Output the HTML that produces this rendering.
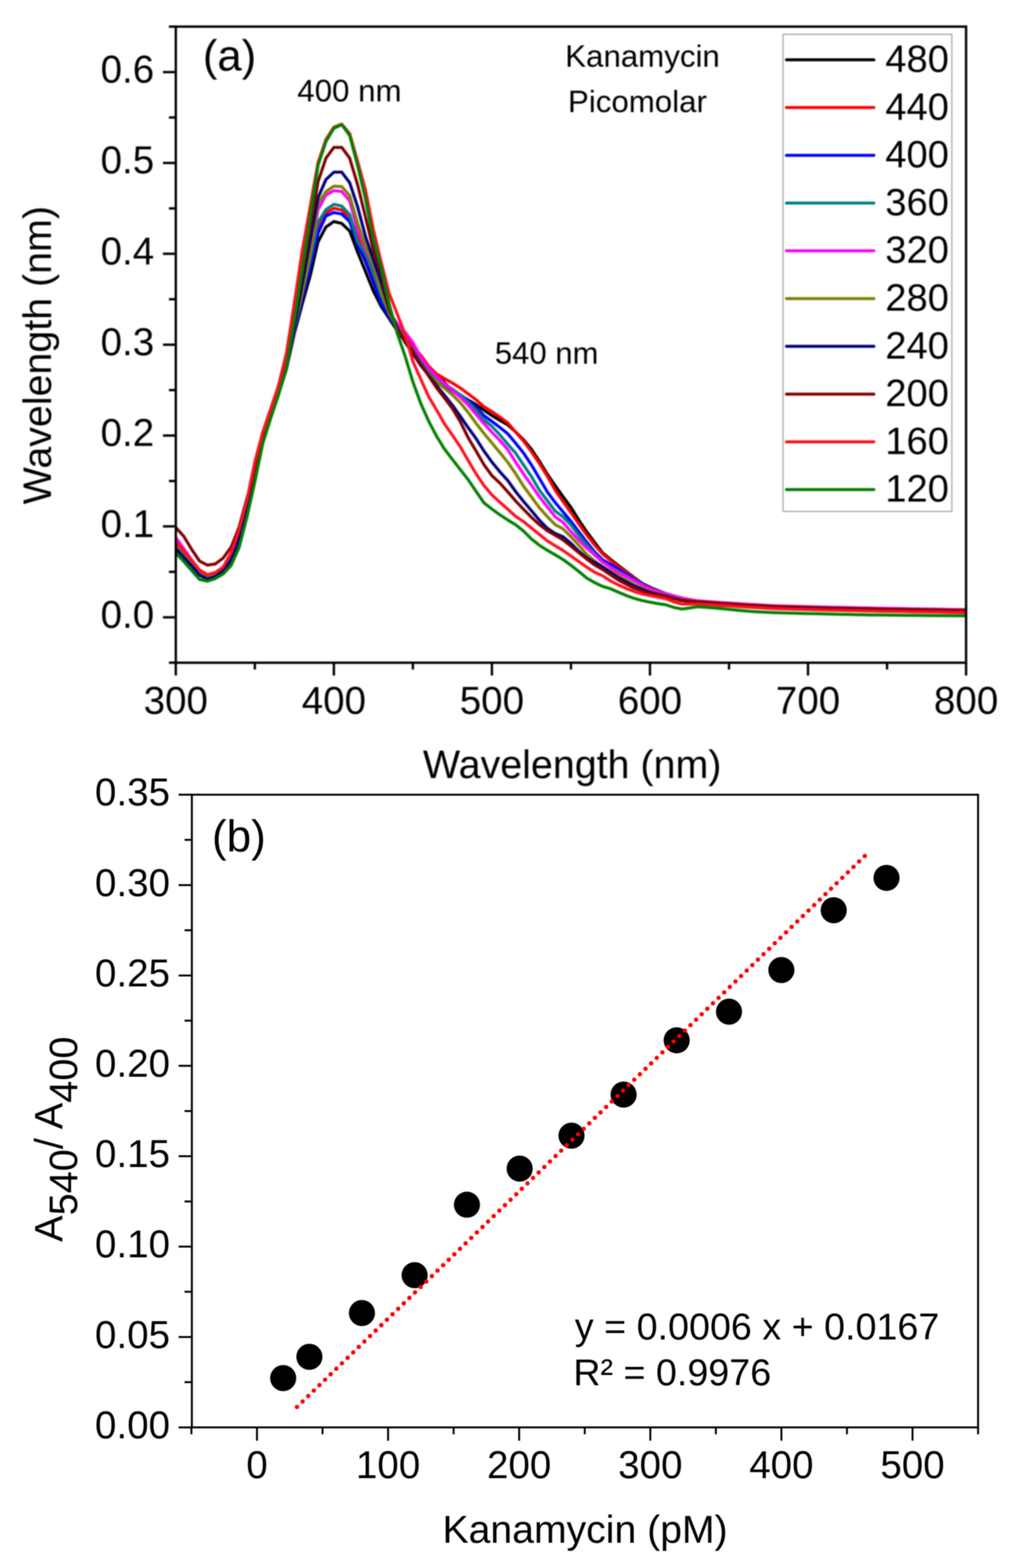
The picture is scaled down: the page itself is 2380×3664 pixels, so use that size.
<!DOCTYPE html>
<html><head><meta charset="utf-8"><title>Kanamycin figure</title>
<style>html,body{margin:0;padding:0;background:#fff;} svg{display:block;}</style>
</head><body>
<svg width="2380" height="3664" viewBox="0 0 2380 3664">
<defs><filter id="bA" x="-2%" y="-2%" width="104%" height="104%" color-interpolation-filters="sRGB"><feGaussianBlur stdDeviation="1.6"/></filter><filter id="bB" x="-2%" y="-2%" width="104%" height="104%" color-interpolation-filters="sRGB"><feGaussianBlur stdDeviation="1.0"/></filter></defs>
<rect width="2380" height="3664" fill="#fff"/>
<g filter="url(#bA)">
<clipPath id="ca"><rect x="410.6" y="62.2" width="1845.8000000000002" height="1486.3999999999999"/></clipPath>
<g clip-path="url(#ca)" fill="none" stroke-width="7" stroke-linejoin="round" stroke-linecap="round">
<polyline stroke="#000000" points="410.6,1270.0 429.1,1291.0 447.5,1312.0 466.0,1336.0 484.4,1346.0 502.9,1340.0 521.3,1327.0 539.8,1308.4 558.3,1259.7 576.7,1188.7 595.2,1102.4 613.6,1027.3 632.1,973.6 650.6,920.7 669.0,862.5 687.5,779.1 705.9,710.0 724.4,644.7 742.8,565.0 761.3,530.4 779.8,517.6 798.2,522.2 816.7,539.7 835.1,588.7 853.6,634.1 872.1,680.2 890.5,716.4 909.0,744.3 927.4,772.7 945.9,797.5 964.3,821.2 982.8,840.3 1001.3,859.1 1019.7,874.9 1038.2,894.0 1056.6,913.5 1075.1,924.1 1093.5,934.7 1112.0,945.5 1130.5,958.9 1148.9,970.8 1167.4,982.2 1185.8,992.6 1204.3,1009.3 1222.8,1027.7 1241.2,1049.7 1259.7,1077.7 1278.1,1107.6 1296.6,1134.7 1315.0,1160.5 1333.5,1185.6 1352.0,1215.4 1370.4,1242.7 1388.9,1267.7 1407.3,1291.6 1425.8,1306.9 1444.2,1321.2 1462.7,1335.5 1481.2,1349.6 1499.6,1363.2 1518.1,1372.2 1536.5,1379.8 1555.0,1386.9 1573.5,1392.6 1591.9,1398.4 1610.4,1403.1 1628.8,1407.7 1647.3,1409.3 1665.7,1410.6 1684.2,1412.0 1702.7,1413.1 1721.1,1414.2 1739.6,1415.4 1758.0,1416.5 1776.5,1417.6 1795.0,1418.7 1813.4,1419.4 1831.9,1420.0 1850.3,1420.5 1868.8,1421.1 1887.2,1421.6 1905.7,1422.1 1924.2,1422.5 1942.6,1422.9 1961.1,1423.3 1979.5,1423.7 1998.0,1424.1 2016.4,1424.5 2034.9,1424.8 2053.4,1425.2 2071.8,1425.5 2090.3,1425.8 2108.7,1426.1 2127.2,1426.4 2145.7,1426.7 2164.1,1427.0 2182.6,1427.3 2201.0,1427.6 2219.5,1427.9 2237.9,1428.2 2256.4,1428.5"/>
<polyline stroke="#ff0000" points="410.6,1266.0 429.1,1287.0 447.5,1309.0 466.0,1332.0 484.4,1343.0 502.9,1338.0 521.3,1325.0 539.8,1296.8 558.3,1245.2 576.7,1174.7 595.2,1089.8 613.6,1021.9 632.1,970.6 650.6,919.4 669.0,861.5 687.5,772.3 705.9,692.5 724.4,615.1 742.8,530.0 761.3,497.8 779.8,486.7 798.2,490.8 816.7,507.0 835.1,554.6 853.6,601.2 872.1,649.7 890.5,702.7 909.0,730.0 927.4,756.1 945.9,783.8 964.3,810.1 982.8,829.9 1001.3,855.7 1019.7,873.7 1038.2,884.7 1056.6,895.0 1075.1,906.6 1093.5,920.2 1112.0,934.1 1130.5,950.6 1148.9,961.7 1167.4,974.3 1185.8,987.8 1204.3,1009.5 1222.8,1030.7 1241.2,1055.5 1259.7,1082.8 1278.1,1112.3 1296.6,1145.3 1315.0,1172.0 1333.5,1197.7 1352.0,1224.5 1370.4,1250.1 1388.9,1273.7 1407.3,1294.2 1425.8,1309.7 1444.2,1323.6 1462.7,1337.4 1481.2,1351.3 1499.6,1365.1 1518.1,1373.8 1536.5,1380.8 1555.0,1387.3 1573.5,1392.9 1591.9,1398.4 1610.4,1403.5 1628.8,1408.7 1647.3,1410.3 1665.7,1411.6 1684.2,1413.0 1702.7,1414.1 1721.1,1415.2 1739.6,1416.4 1758.0,1417.5 1776.5,1418.6 1795.0,1419.7 1813.4,1420.4 1831.9,1421.0 1850.3,1421.5 1868.8,1422.1 1887.2,1422.6 1905.7,1423.1 1924.2,1423.5 1942.6,1423.9 1961.1,1424.3 1979.5,1424.7 1998.0,1425.1 2016.4,1425.5 2034.9,1425.8 2053.4,1426.2 2071.8,1426.5 2090.3,1426.8 2108.7,1427.1 2127.2,1427.4 2145.7,1427.7 2164.1,1428.0 2182.6,1428.3 2201.0,1428.6 2219.5,1428.9 2237.9,1429.2 2256.4,1429.5"/>
<polyline stroke="#0000ff" points="410.6,1274.0 429.1,1296.0 447.5,1318.0 466.0,1341.0 484.4,1351.0 502.9,1345.0 521.3,1332.0 539.8,1308.5 558.3,1259.7 576.7,1188.7 595.2,1102.4 613.6,1027.3 632.1,973.6 650.6,920.7 669.0,861.7 687.5,773.1 705.9,698.5 724.4,626.0 742.8,545.0 761.3,504.8 779.8,496.6 798.2,500.1 816.7,517.6 835.1,571.2 853.6,611.5 872.1,660.0 890.5,709.0 909.0,739.9 927.4,769.9 945.9,797.5 964.3,821.2 982.8,841.3 1001.3,861.3 1019.7,880.6 1038.2,899.9 1056.6,913.9 1075.1,922.7 1093.5,935.7 1112.0,952.0 1130.5,971.3 1148.9,984.7 1167.4,998.7 1185.8,1013.5 1204.3,1035.5 1222.8,1058.6 1241.2,1086.2 1259.7,1117.8 1278.1,1149.1 1296.6,1174.1 1315.0,1196.0 1333.5,1218.2 1352.0,1242.9 1370.4,1266.8 1388.9,1289.6 1407.3,1308.0 1425.8,1318.7 1444.2,1329.6 1462.7,1341.6 1481.2,1354.0 1499.6,1364.5 1518.1,1374.6 1536.5,1381.0 1555.0,1387.3 1573.5,1392.4 1591.9,1397.4 1610.4,1402.1 1628.8,1406.7 1647.3,1408.3 1665.7,1409.6 1684.2,1411.0 1702.7,1412.1 1721.1,1413.2 1739.6,1414.4 1758.0,1415.5 1776.5,1416.6 1795.0,1417.7 1813.4,1418.4 1831.9,1419.0 1850.3,1419.5 1868.8,1420.1 1887.2,1420.6 1905.7,1421.1 1924.2,1421.5 1942.6,1421.9 1961.1,1422.3 1979.5,1422.7 1998.0,1423.1 2016.4,1423.5 2034.9,1423.8 2053.4,1424.2 2071.8,1424.5 2090.3,1424.8 2108.7,1425.1 2127.2,1425.4 2145.7,1425.7 2164.1,1426.0 2182.6,1426.3 2201.0,1426.6 2219.5,1426.9 2237.9,1427.2 2256.4,1427.5"/>
<polyline stroke="#008080" points="410.6,1278.0 429.1,1299.0 447.5,1320.0 466.0,1342.0 484.4,1352.0 502.9,1346.0 521.3,1333.0 539.8,1308.6 558.3,1259.7 576.7,1188.7 595.2,1102.4 613.6,1027.3 632.1,973.6 650.6,920.7 669.0,860.9 687.5,767.0 705.9,684.5 724.4,605.9 742.8,520.0 761.3,489.6 779.8,477.4 798.2,481.5 816.7,501.3 835.1,564.3 853.6,592.8 872.1,635.9 890.5,691.4 909.0,731.0 927.4,763.6 945.9,791.3 964.3,819.0 982.8,842.8 1001.3,866.5 1019.7,882.9 1038.2,898.0 1056.6,909.0 1075.1,922.9 1093.5,940.0 1112.0,958.5 1130.5,980.8 1148.9,996.3 1167.4,1015.9 1185.8,1037.7 1204.3,1058.7 1222.8,1086.5 1241.2,1113.6 1259.7,1145.1 1278.1,1169.6 1296.6,1194.1 1315.0,1207.8 1333.5,1226.9 1352.0,1251.4 1370.4,1273.3 1388.9,1294.1 1407.3,1312.9 1425.8,1324.6 1444.2,1335.1 1462.7,1345.6 1481.2,1355.9 1499.6,1365.9 1518.1,1375.5 1536.5,1381.4 1555.0,1387.3 1573.5,1392.4 1591.9,1397.4 1610.4,1401.2 1628.8,1404.8 1647.3,1406.3 1665.7,1407.6 1684.2,1409.0 1702.7,1410.1 1721.1,1411.2 1739.6,1412.4 1758.0,1413.5 1776.5,1414.6 1795.0,1415.7 1813.4,1416.4 1831.9,1417.0 1850.3,1417.5 1868.8,1418.1 1887.2,1418.6 1905.7,1419.1 1924.2,1419.5 1942.6,1419.9 1961.1,1420.3 1979.5,1420.7 1998.0,1421.1 2016.4,1421.5 2034.9,1421.8 2053.4,1422.2 2071.8,1422.5 2090.3,1422.8 2108.7,1423.1 2127.2,1423.4 2145.7,1423.7 2164.1,1424.0 2182.6,1424.3 2201.0,1424.6 2219.5,1424.9 2237.9,1425.2 2256.4,1425.5"/>
<polyline stroke="#ff00ff" points="410.6,1256.0 429.1,1282.0 447.5,1308.0 466.0,1334.0 484.4,1349.0 502.9,1343.0 521.3,1330.0 539.8,1308.5 558.3,1259.7 576.7,1188.7 595.2,1102.4 613.6,1027.3 632.1,973.6 650.6,920.7 669.0,860.9 687.5,766.8 705.9,682.8 724.4,596.7 742.8,490.0 761.3,455.9 779.8,445.4 798.2,447.7 816.7,469.0 835.1,538.1 853.6,582.1 872.1,618.5 890.5,681.0 909.0,727.5 927.4,757.5 945.9,776.2 964.3,800.5 982.8,834.5 1001.3,860.6 1019.7,880.2 1038.2,896.0 1056.6,912.5 1075.1,928.3 1093.5,946.5 1112.0,968.2 1130.5,990.2 1148.9,1010.1 1167.4,1029.1 1185.8,1050.4 1204.3,1079.7 1222.8,1107.5 1241.2,1133.8 1259.7,1160.6 1278.1,1184.1 1296.6,1207.5 1315.0,1220.7 1333.5,1242.3 1352.0,1262.3 1370.4,1280.7 1388.9,1297.2 1407.3,1313.3 1425.8,1325.9 1444.2,1337.2 1462.7,1347.1 1481.2,1356.9 1499.6,1366.7 1518.1,1376.2 1536.5,1381.8 1555.0,1387.3 1573.5,1392.2 1591.9,1397.1 1610.4,1400.6 1628.8,1403.8 1647.3,1405.3 1665.7,1406.6 1684.2,1408.0 1702.7,1409.1 1721.1,1410.2 1739.6,1411.4 1758.0,1412.5 1776.5,1413.6 1795.0,1414.7 1813.4,1415.4 1831.9,1416.0 1850.3,1416.5 1868.8,1417.1 1887.2,1417.6 1905.7,1418.1 1924.2,1418.5 1942.6,1418.9 1961.1,1419.3 1979.5,1419.7 1998.0,1420.1 2016.4,1420.5 2034.9,1420.8 2053.4,1421.2 2071.8,1421.5 2090.3,1421.8 2108.7,1422.1 2127.2,1422.4 2145.7,1422.7 2164.1,1423.0 2182.6,1423.3 2201.0,1423.6 2219.5,1423.9 2237.9,1424.2 2256.4,1424.5"/>
<polyline stroke="#808000" points="410.6,1276.0 429.1,1297.0 447.5,1318.0 466.0,1340.0 484.4,1350.0 502.9,1344.0 521.3,1331.0 539.8,1308.5 558.3,1259.7 576.7,1188.7 595.2,1102.4 613.6,1027.3 632.1,973.6 650.6,920.7 669.0,860.9 687.5,767.0 705.9,684.5 724.4,595.5 742.8,476.0 761.3,447.7 779.8,434.9 798.2,436.1 816.7,457.0 835.1,521.3 853.6,575.0 872.1,616.7 890.5,681.0 909.0,732.0 927.4,766.1 945.9,793.8 964.3,825.8 982.8,854.0 1001.3,874.7 1019.7,892.3 1038.2,907.1 1056.6,922.5 1075.1,941.0 1093.5,963.7 1112.0,989.3 1130.5,1013.0 1148.9,1035.1 1167.4,1057.3 1185.8,1080.1 1204.3,1106.8 1222.8,1136.2 1241.2,1161.1 1259.7,1186.3 1278.1,1207.0 1296.6,1225.8 1315.0,1235.7 1333.5,1254.2 1352.0,1274.1 1370.4,1295.7 1388.9,1310.7 1407.3,1324.1 1425.8,1334.8 1444.2,1345.2 1462.7,1355.7 1481.2,1365.8 1499.6,1374.4 1518.1,1382.6 1536.5,1387.5 1555.0,1392.4 1573.5,1396.8 1591.9,1401.1 1610.4,1403.6 1628.8,1405.9 1647.3,1407.3 1665.7,1408.6 1684.2,1410.0 1702.7,1411.1 1721.1,1412.2 1739.6,1413.4 1758.0,1414.5 1776.5,1415.6 1795.0,1416.7 1813.4,1417.4 1831.9,1418.0 1850.3,1418.5 1868.8,1419.1 1887.2,1419.6 1905.7,1420.1 1924.2,1420.5 1942.6,1420.9 1961.1,1421.3 1979.5,1421.7 1998.0,1422.1 2016.4,1422.5 2034.9,1422.8 2053.4,1423.2 2071.8,1423.5 2090.3,1423.8 2108.7,1424.1 2127.2,1424.4 2145.7,1424.7 2164.1,1425.0 2182.6,1425.3 2201.0,1425.6 2219.5,1425.9 2237.9,1426.2 2256.4,1426.5"/>
<polyline stroke="#000080" points="410.6,1282.0 429.1,1302.0 447.5,1322.0 466.0,1344.0 484.4,1353.0 502.9,1347.0 521.3,1334.0 539.8,1308.6 558.3,1259.7 576.7,1188.7 595.2,1102.4 613.6,1027.3 632.1,973.6 650.6,920.7 669.0,860.9 687.5,763.9 705.9,662.8 724.4,561.6 742.8,462.0 761.3,419.5 779.8,402.3 798.2,402.3 816.7,426.8 835.1,482.5 853.6,552.4 872.1,606.1 890.5,660.2 909.0,723.3 927.4,765.1 945.9,799.6 964.3,825.8 982.8,853.9 1001.3,877.5 1019.7,900.6 1038.2,923.6 1056.6,946.6 1075.1,972.6 1093.5,999.4 1112.0,1024.9 1130.5,1054.1 1148.9,1079.7 1167.4,1102.3 1185.8,1122.6 1204.3,1148.6 1222.8,1171.8 1241.2,1193.3 1259.7,1215.4 1278.1,1234.2 1296.6,1246.6 1315.0,1254.2 1333.5,1269.7 1352.0,1288.2 1370.4,1303.8 1388.9,1314.2 1407.3,1324.5 1425.8,1337.5 1444.2,1349.9 1462.7,1359.9 1481.2,1369.5 1499.6,1377.1 1518.1,1384.4 1536.5,1388.7 1555.0,1393.0 1573.5,1397.7 1591.9,1402.5 1610.4,1404.8 1628.8,1406.9 1647.3,1408.3 1665.7,1409.6 1684.2,1411.0 1702.7,1412.1 1721.1,1413.2 1739.6,1414.4 1758.0,1415.5 1776.5,1416.6 1795.0,1417.7 1813.4,1418.4 1831.9,1419.0 1850.3,1419.5 1868.8,1420.1 1887.2,1420.6 1905.7,1421.1 1924.2,1421.5 1942.6,1421.9 1961.1,1422.3 1979.5,1422.7 1998.0,1423.1 2016.4,1423.5 2034.9,1423.8 2053.4,1424.2 2071.8,1424.5 2090.3,1424.8 2108.7,1425.1 2127.2,1425.4 2145.7,1425.7 2164.1,1426.0 2182.6,1426.3 2201.0,1426.6 2219.5,1426.9 2237.9,1427.2 2256.4,1427.5"/>
<polyline stroke="#800000" points="410.6,1232.6 429.1,1253.0 447.5,1283.5 466.0,1311.0 484.4,1320.5 502.9,1317.8 521.3,1304.0 539.8,1278.5 558.3,1232.2 576.7,1164.4 595.2,1102.5 613.6,1028.4 632.1,971.9 650.6,916.6 669.0,854.2 687.5,750.1 705.9,640.5 724.4,533.9 742.8,425.0 761.3,369.6 779.8,344.4 798.2,344.4 816.7,369.6 835.1,431.2 853.6,506.8 872.1,584.5 890.5,639.5 909.0,722.3 927.4,767.1 945.9,797.5 964.3,821.9 982.8,851.0 1001.3,878.7 1019.7,906.3 1038.2,930.2 1056.6,954.7 1075.1,985.4 1093.5,1022.9 1112.0,1054.0 1130.5,1086.1 1148.9,1111.4 1167.4,1128.7 1185.8,1149.1 1204.3,1170.6 1222.8,1190.2 1241.2,1208.9 1259.7,1225.8 1278.1,1239.9 1296.6,1250.6 1315.0,1261.5 1333.5,1276.2 1352.0,1291.5 1370.4,1306.4 1388.9,1320.2 1407.3,1330.6 1425.8,1343.2 1444.2,1355.3 1462.7,1365.2 1481.2,1374.3 1499.6,1380.5 1518.1,1386.4 1536.5,1390.1 1555.0,1393.8 1573.5,1398.7 1591.9,1403.6 1610.4,1405.0 1628.8,1405.9 1647.3,1407.3 1665.7,1408.6 1684.2,1410.0 1702.7,1411.1 1721.1,1412.2 1739.6,1413.4 1758.0,1414.5 1776.5,1415.6 1795.0,1416.7 1813.4,1417.4 1831.9,1418.0 1850.3,1418.5 1868.8,1419.1 1887.2,1419.6 1905.7,1420.1 1924.2,1420.5 1942.6,1420.9 1961.1,1421.3 1979.5,1421.7 1998.0,1422.1 2016.4,1422.5 2034.9,1422.8 2053.4,1423.2 2071.8,1423.5 2090.3,1423.8 2108.7,1424.1 2127.2,1424.4 2145.7,1424.7 2164.1,1425.0 2182.6,1425.3 2201.0,1425.6 2219.5,1425.9 2237.9,1426.2 2256.4,1426.5"/>
<polyline stroke="#ff1020" points="410.6,1266.0 429.1,1287.0 447.5,1309.0 466.0,1332.0 484.4,1343.0 502.9,1338.0 521.3,1325.0 539.8,1292.1 558.3,1239.1 576.7,1168.7 595.2,1079.4 613.6,1010.1 632.1,955.7 650.6,900.7 669.0,825.1 687.5,707.8 705.9,585.7 724.4,482.8 742.8,380.0 761.3,326.0 779.8,297.0 798.2,290.0 816.7,312.0 835.1,376.1 853.6,443.5 872.1,537.0 890.5,613.0 909.0,685.8 927.4,732.5 945.9,780.5 964.3,844.3 982.8,886.1 1001.3,927.1 1019.7,958.0 1038.2,990.4 1056.6,1017.0 1075.1,1044.1 1093.5,1076.0 1112.0,1107.2 1130.5,1134.8 1148.9,1156.4 1167.4,1173.5 1185.8,1189.7 1204.3,1206.7 1222.8,1218.9 1241.2,1233.7 1259.7,1248.7 1278.1,1263.6 1296.6,1275.2 1315.0,1286.3 1333.5,1299.2 1352.0,1312.4 1370.4,1325.4 1388.9,1337.2 1407.3,1345.4 1425.8,1357.5 1444.2,1366.8 1462.7,1375.0 1481.2,1382.3 1499.6,1387.9 1518.1,1391.6 1536.5,1395.2 1555.0,1399.0 1573.5,1406.3 1591.9,1411.4 1610.4,1411.5 1628.8,1411.0 1647.3,1412.3 1665.7,1413.6 1684.2,1415.0 1702.7,1416.1 1721.1,1417.2 1739.6,1418.4 1758.0,1419.5 1776.5,1420.6 1795.0,1421.7 1813.4,1422.4 1831.9,1423.0 1850.3,1423.5 1868.8,1424.1 1887.2,1424.6 1905.7,1425.1 1924.2,1425.5 1942.6,1425.9 1961.1,1426.3 1979.5,1426.7 1998.0,1427.1 2016.4,1427.5 2034.9,1427.8 2053.4,1428.2 2071.8,1428.5 2090.3,1428.8 2108.7,1429.1 2127.2,1429.4 2145.7,1429.7 2164.1,1430.0 2182.6,1430.3 2201.0,1430.6 2219.5,1430.9 2237.9,1431.2 2256.4,1431.5"/>
<polyline stroke="#008000" points="410.6,1291.6 429.1,1312.0 447.5,1333.0 466.0,1354.0 484.4,1358.0 502.9,1352.0 521.3,1341.0 539.8,1321.3 558.3,1279.9 576.7,1208.9 595.2,1126.1 613.6,1036.7 632.1,977.9 650.6,922.6 669.0,859.4 687.5,747.4 705.9,628.0 724.4,509.4 742.8,386.4 761.3,330.8 779.8,299.8 798.2,291.3 816.7,316.6 835.1,386.4 853.6,464.5 872.1,560.2 890.5,624.9 909.0,710.5 927.4,777.8 945.9,831.3 964.3,892.2 982.8,942.8 1001.3,984.4 1019.7,1019.4 1038.2,1049.3 1056.6,1073.5 1075.1,1097.3 1093.5,1120.9 1112.0,1148.3 1130.5,1175.2 1148.9,1189.5 1167.4,1202.8 1185.8,1214.9 1204.3,1226.2 1222.8,1241.0 1241.2,1259.3 1259.7,1274.1 1278.1,1285.8 1296.6,1296.4 1315.0,1307.4 1333.5,1320.9 1352.0,1335.5 1370.4,1350.8 1388.9,1361.5 1407.3,1370.2 1425.8,1375.7 1444.2,1383.8 1462.7,1391.6 1481.2,1398.2 1499.6,1403.4 1518.1,1407.1 1536.5,1410.5 1555.0,1413.2 1573.5,1419.3 1591.9,1423.2 1610.4,1420.8 1628.8,1417.7 1647.3,1419.0 1665.7,1420.5 1684.2,1422.1 1702.7,1423.9 1721.1,1425.8 1739.6,1427.6 1758.0,1429.0 1776.5,1430.0 1795.0,1431.1 1813.4,1431.7 1831.9,1432.2 1850.3,1432.7 1868.8,1433.2 1887.2,1433.7 1905.7,1434.1 1924.2,1434.5 1942.6,1435.0 1961.1,1435.4 1979.5,1435.8 1998.0,1436.2 2016.4,1436.6 2034.9,1436.9 2053.4,1437.1 2071.8,1437.3 2090.3,1437.5 2108.7,1437.7 2127.2,1437.9 2145.7,1438.0 2164.1,1438.2 2182.6,1438.4 2201.0,1438.5 2219.5,1438.7 2237.9,1438.8 2256.4,1439.0"/>
</g>
<rect x="410.6" y="62.2" width="1845.8" height="1486.4" fill="none" stroke="#000" stroke-width="5.5"/>
<path d="M394.6 1548.6H410.6 M380.6 1442.4H410.6 M394.6 1336.2H410.6 M380.6 1230.1H410.6 M394.6 1123.9H410.6 M380.6 1017.7H410.6 M394.6 911.6H410.6 M380.6 805.4H410.6 M394.6 699.2H410.6 M380.6 593.1H410.6 M394.6 486.9H410.6 M380.6 380.8H410.6 M394.6 274.6H410.6 M380.6 168.4H410.6 M394.6 62.3H410.6 M410.6 1548.6V1578.6 M595.2 1548.6V1564.6 M779.8 1548.6V1578.6 M964.3 1548.6V1564.6 M1148.9 1548.6V1578.6 M1333.5 1548.6V1564.6 M1518.1 1548.6V1578.6 M1702.7 1548.6V1564.6 M1887.2 1548.6V1578.6 M2071.8 1548.6V1564.6 M2256.4 1548.6V1578.6" stroke="#000" stroke-width="5.5" fill="none"/>
<g font-family="'Liberation Sans', Arial, Helvetica, sans-serif" font-size="90" fill="#000" text-anchor="end">
<text x="360" y="1467.0">0.0</text>
<text x="360" y="1254.7">0.1</text>
<text x="360" y="1042.3">0.2</text>
<text x="360" y="830.0">0.3</text>
<text x="360" y="617.7">0.4</text>
<text x="360" y="405.4">0.5</text>
<text x="360" y="193.0">0.6</text>
</g>
<g font-family="'Liberation Sans', Arial, Helvetica, sans-serif" font-size="90" fill="#000" text-anchor="middle">
<text x="410.6" y="1668">300</text>
<text x="779.8" y="1668">400</text>
<text x="1148.9" y="1668">500</text>
<text x="1518.1" y="1668">600</text>
<text x="1887.2" y="1668">700</text>
<text x="2256.4" y="1668">800</text>
</g>
<text x="1336.4" y="1818" font-family="'Liberation Sans', Arial, Helvetica, sans-serif" font-size="92" text-anchor="middle">Wavelength (nm)</text>
<text transform="translate(119,830) rotate(-90)" font-family="'Liberation Sans', Arial, Helvetica, sans-serif" font-size="92" text-anchor="middle">Wavelength (nm)</text>
<text x="473.7" y="164.7" font-family="'Liberation Sans', Arial, Helvetica, sans-serif" font-size="102">(a)</text>
<text x="694.3" y="236.9" font-family="'Liberation Sans', Arial, Helvetica, sans-serif" font-size="73">400 nm</text>
<text x="1155.8" y="849.7" font-family="'Liberation Sans', Arial, Helvetica, sans-serif" font-size="72.5">540 nm</text>
<text x="1320.1" y="156" font-family="'Liberation Sans', Arial, Helvetica, sans-serif" font-size="73">Kanamycin</text>
<text x="1326.5" y="261.8" font-family="'Liberation Sans', Arial, Helvetica, sans-serif" font-size="73">Picomolar</text>
<rect x="1828.9" y="80.2" width="394.2" height="1114.9" fill="#fff" stroke="#999" stroke-width="2.5"/>
<g font-family="'Liberation Sans', Arial, Helvetica, sans-serif" font-size="89" text-anchor="end">
<line x1="1837" y1="139.7" x2="2041" y2="139.7" stroke="#000000" stroke-width="7" stroke-linecap="round"/>
<text x="2216.3" y="168.0">480</text>
<line x1="1837" y1="251.3" x2="2041" y2="251.3" stroke="#ff0000" stroke-width="7" stroke-linecap="round"/>
<text x="2216.3" y="279.6">440</text>
<line x1="1837" y1="362.9" x2="2041" y2="362.9" stroke="#0000ff" stroke-width="7" stroke-linecap="round"/>
<text x="2216.3" y="391.2">400</text>
<line x1="1837" y1="474.5" x2="2041" y2="474.5" stroke="#008080" stroke-width="7" stroke-linecap="round"/>
<text x="2216.3" y="502.8">360</text>
<line x1="1837" y1="586.1" x2="2041" y2="586.1" stroke="#ff00ff" stroke-width="7" stroke-linecap="round"/>
<text x="2216.3" y="614.4">320</text>
<line x1="1837" y1="697.7" x2="2041" y2="697.7" stroke="#808000" stroke-width="7" stroke-linecap="round"/>
<text x="2216.3" y="726.0">280</text>
<line x1="1837" y1="809.3" x2="2041" y2="809.3" stroke="#000080" stroke-width="7" stroke-linecap="round"/>
<text x="2216.3" y="837.6">240</text>
<line x1="1837" y1="920.9" x2="2041" y2="920.9" stroke="#800000" stroke-width="7" stroke-linecap="round"/>
<text x="2216.3" y="949.2">200</text>
<line x1="1837" y1="1032.5" x2="2041" y2="1032.5" stroke="#ff1020" stroke-width="7" stroke-linecap="round"/>
<text x="2216.3" y="1060.8">160</text>
<line x1="1837" y1="1144.1" x2="2041" y2="1144.1" stroke="#008000" stroke-width="7" stroke-linecap="round"/>
<text x="2216.3" y="1172.4">120</text>
</g>
</g>
<g filter="url(#bB)">
<rect x="448.1" y="1857.0" width="1836.3" height="1478.4" fill="none" stroke="#000" stroke-width="4.5"/>
<path d="M417.1 3335.4H448.1 M431.1 3229.8H448.1 M417.1 3124.2H448.1 M431.1 3018.6H448.1 M417.1 2913.0H448.1 M431.1 2807.4H448.1 M417.1 2701.8H448.1 M431.1 2596.2H448.1 M417.1 2490.6H448.1 M431.1 2385.0H448.1 M417.1 2279.4H448.1 M431.1 2173.8H448.1 M417.1 2068.2H448.1 M431.1 1962.6H448.1 M417.1 1857.0H448.1 M447.1 3335.4V3351.4 M600.2 3335.4V3366.4 M753.3 3335.4V3351.4 M906.4 3335.4V3366.4 M1059.5 3335.4V3351.4 M1212.6 3335.4V3366.4 M1365.8 3335.4V3351.4 M1518.9 3335.4V3366.4 M1672.0 3335.4V3351.4 M1825.1 3335.4V3366.4 M1978.2 3335.4V3351.4 M2131.3 3335.4V3366.4 M2284.4 3335.4V3351.4" stroke="#000" stroke-width="4.5" fill="none"/>
<g font-family="'Liberation Sans', Arial, Helvetica, sans-serif" font-size="90" fill="#000" text-anchor="end">
<text x="397" y="3360.8">0.00</text>
<text x="397" y="3149.6">0.05</text>
<text x="397" y="2938.4">0.10</text>
<text x="397" y="2727.2">0.15</text>
<text x="397" y="2516.0">0.20</text>
<text x="397" y="2304.8">0.25</text>
<text x="397" y="2093.6">0.30</text>
<text x="397" y="1882.4">0.35</text>
</g>
<g font-family="'Liberation Sans', Arial, Helvetica, sans-serif" font-size="90" fill="#000" text-anchor="middle">
<text x="600.2" y="3454">0</text>
<text x="906.4" y="3454">100</text>
<text x="1212.6" y="3454">200</text>
<text x="1518.9" y="3454">300</text>
<text x="1825.1" y="3454">400</text>
<text x="2131.3" y="3454">500</text>
</g>
<text x="1366.5" y="3605.4" font-family="'Liberation Sans', Arial, Helvetica, sans-serif" font-size="91.5" text-anchor="middle">Kanamycin (pM)</text>
<text transform="translate(146,2902) rotate(-90)" font-family="'Liberation Sans', Arial, Helvetica, sans-serif" font-size="92.8">A<tspan dy="34">540</tspan><tspan dy="-34">/ A</tspan><tspan dy="34">400</tspan></text>
<text x="495" y="1989.2" font-family="'Liberation Sans', Arial, Helvetica, sans-serif" font-size="103">(b)</text>
<line x1="693.6" y1="3287.8" x2="2020" y2="2000.1" stroke="#ff0000" stroke-width="10" stroke-linecap="round" stroke-dasharray="0 18.3"/>
<circle cx="661.4" cy="3220.3" r="30.5" fill="#000"/>
<circle cx="722.6" cy="3170.5" r="30.5" fill="#000"/>
<circle cx="845.3" cy="3068.2" r="30.5" fill="#000"/>
<circle cx="968.4" cy="2979.7" r="30.5" fill="#000"/>
<circle cx="1090.6" cy="2815.1" r="30.5" fill="#000"/>
<circle cx="1213.7" cy="2730.8" r="30.5" fill="#000"/>
<circle cx="1334.8" cy="2653.7" r="30.5" fill="#000"/>
<circle cx="1456.5" cy="2557.8" r="30.5" fill="#000"/>
<circle cx="1580.5" cy="2430.9" r="30.5" fill="#000"/>
<circle cx="1702.7" cy="2364" r="30.5" fill="#000"/>
<circle cx="1825" cy="2266.7" r="30.5" fill="#000"/>
<circle cx="1947.2" cy="2127" r="30.5" fill="#000"/>
<circle cx="2070.6" cy="2051.4" r="30.5" fill="#000"/>
<line x1="693.6" y1="3287.8" x2="2020" y2="2000.1" stroke="#ff0000" stroke-width="10" stroke-linecap="round" stroke-dasharray="0 18.3"/>
<text x="1342.6" y="3130" font-family="'Liberation Sans', Arial, Helvetica, sans-serif" font-size="88" xml:space="preserve">y = 0.0006 x + 0.0167</text>
<text x="1338.9" y="3237.3" font-family="'Liberation Sans', Arial, Helvetica, sans-serif" font-size="88">R² = 0.9976</text>
</g>
</svg>
</body></html>
